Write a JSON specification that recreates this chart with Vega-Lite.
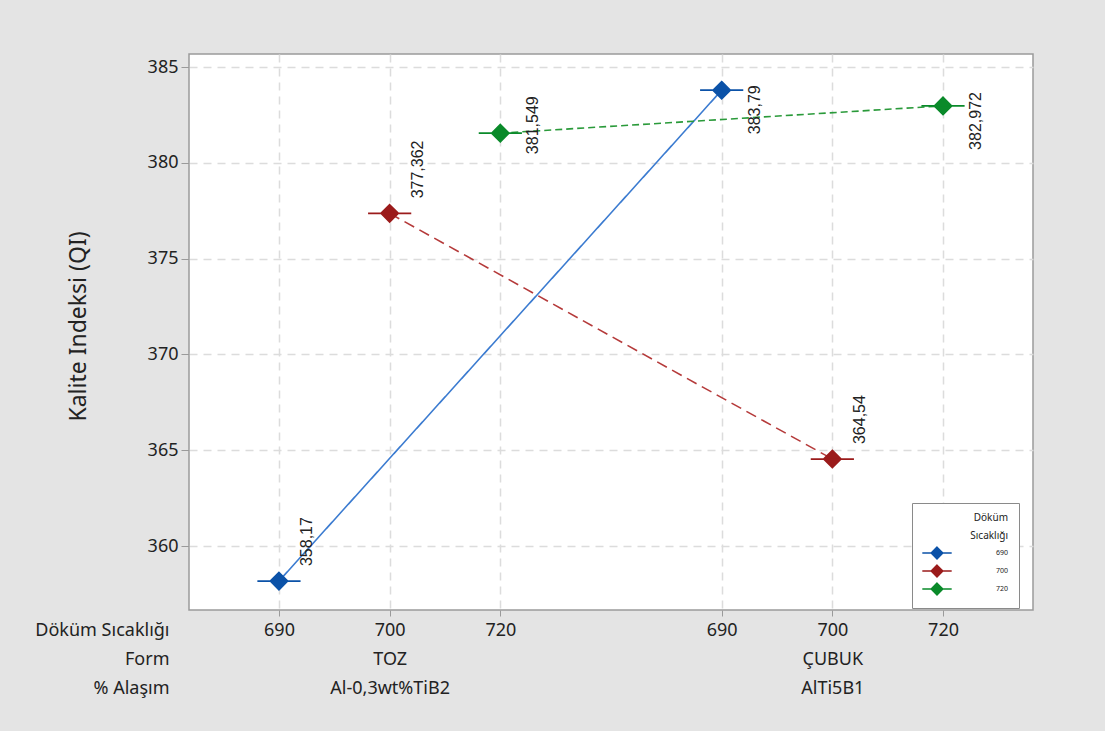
{
  "$schema": "https://vega.github.io/schema/vega-lite/v6.json",
  "autosize": {"type": "none"},
  "width": 844,
  "height": 556,
  "padding": {"left": 189, "top": 54, "right": 72, "bottom": 121},
  "background": "#e4e4e4",
  "config": {
    "view": {"fill": "white", "stroke": "#9a9a9a", "strokeWidth": 1.5},
    "font": "Noto Sans",
    "axis": {"domain": false}
  },
  "data": {
    "values": [
      {"Form": "TOZ", "Alasim": "Al-0,3wt%TiB2", "Sicaklik": "690", "QI": 358.17},
      {"Form": "TOZ", "Alasim": "Al-0,3wt%TiB2", "Sicaklik": "700", "QI": 377.362},
      {"Form": "TOZ", "Alasim": "Al-0,3wt%TiB2", "Sicaklik": "720", "QI": 381.549},
      {"Form": "ÇUBUK", "Alasim": "AlTi5B1", "Sicaklik": "690", "QI": 383.79},
      {"Form": "ÇUBUK", "Alasim": "AlTi5B1", "Sicaklik": "700", "QI": 364.54},
      {"Form": "ÇUBUK", "Alasim": "AlTi5B1", "Sicaklik": "720", "QI": 382.972}
    ]
  },
  "transform": [
    {"calculate": "datum.Form + '|' + datum.Sicaklik + '|' + datum.Alasim", "as": "Konum"},
    {"calculate": "replace(toString(datum.QI), '.', ',')", "as": "Etiket"},
    {"calculate": "'s' + datum.Sicaklik", "as": "Cizgi"}
  ],
  "encoding": {
    "x": {
      "field": "Konum",
      "type": "ordinal",
      "scale": {
        "type": "point",
        "domain": ["TOZ|690|Al-0,3wt%TiB2", "TOZ|700|Al-0,3wt%TiB2", "TOZ|720|Al-0,3wt%TiB2", "ara", "ÇUBUK|690|AlTi5B1", "ÇUBUK|700|AlTi5B1", "ÇUBUK|720|AlTi5B1"],
        "padding": 0.813
      },
      "axis": {
        "title": ["Döküm Sıcaklığı", "Form", "% Alaşım"],
        "values": ["TOZ|690|Al-0,3wt%TiB2", "TOZ|700|Al-0,3wt%TiB2", "TOZ|720|Al-0,3wt%TiB2", "ÇUBUK|690|AlTi5B1", "ÇUBUK|700|AlTi5B1", "ÇUBUK|720|AlTi5B1"],
        "labelExpr": "split(datum.value, '|')[1] == '700' ? [split(datum.value, '|')[1], split(datum.value, '|')[0], split(datum.value, '|')[2]] : split(datum.value, '|')[1]",
        "labelAngle": 0,
        "labelFontSize": 18,
        "labelLineHeight": 29,
        "labelColor": "#222222",
        "labelPadding": 5,
        "labelBaseline": "top",
        "tickColor": "#9a9a9a",
        "tickSize": 6,
        "grid": true,
        "gridColor": "#dcdcdc",
        "gridDash": [8, 6],
        "gridWidth": 1.5,
        "titleX": -20,
        "titleY": 11,
        "titleAlign": "right",
        "titleBaseline": "top",
        "titleFontSize": 18,
        "titleFontWeight": "normal",
        "titleLineHeight": 29,
        "titleColor": "#222222"
      }
    },
    "y": {
      "field": "QI",
      "type": "quantitative",
      "scale": {"domain": [356.66, 385.68], "nice": false, "zero": false},
      "axis": {
        "title": "Kalite Indeksi (QI)",
        "values": [360, 365, 370, 375, 380, 385],
        "format": "d",
        "labelFontSize": 18,
        "labelColor": "#222222",
        "labelPadding": 3,
        "tickColor": "#9a9a9a",
        "tickSize": 8,
        "grid": true,
        "gridColor": "#dcdcdc",
        "gridDash": [8, 6],
        "gridWidth": 1.5,
        "titleFontSize": 23,
        "titleFontWeight": "normal",
        "titleColor": "#222222",
        "titleX": -111,
        "titleY": 272,
        "titleAngle": 270,
        "titleAlign": "center",
        "titleBaseline": "middle"
      }
    }
  },
  "layer": [
    {
      "mark": {"type": "line", "strokeWidth": 1.6},
      "encoding": {
        "stroke": {
          "field": "Cizgi",
          "type": "nominal",
          "scale": {"domain": ["s690", "s700", "s720"], "range": ["#3b7bd0", "#b53a3a", "#2a9a3a"]},
          "legend": null
        },
        "strokeDash": {
          "field": "Cizgi",
          "type": "nominal",
          "scale": {"domain": ["s690", "s700", "s720"], "range": [[1, 0], [11, 6], [7, 4]]},
          "legend": null
        }
      }
    },
    {
      "mark": {"type": "point", "shape": "M-2.4,0L2.4,0M0,-0.95L0.95,0L0,0.95L-0.95,0Z", "filled": false, "size": 324, "opacity": 1, "strokeWidth": 1.8},
      "encoding": {
        "color": {
          "field": "Sicaklik",
          "type": "nominal",
          "scale": {"domain": ["690", "700", "720"], "range": ["#0b52a8", "#9b1b1b", "#0a8a2a"]},
          "legend": {
            "title": ["Döküm", "Sıcaklığı"],
            "orient": "none",
            "legendX": 723,
            "legendY": 449,
            "fillColor": "white",
            "strokeColor": "#8a8a8a",
            "padding": 10,
            "titleFontSize": 10,
            "titleFontWeight": "normal",
            "titleLineHeight": 18,
            "titleAnchor": "end",
            "titlePadding": 5,
            "titleColor": "#222222",
            "labelFontSize": 7,
            "labelColor": "#222222",
            "labelOffset": 52,
            "symbolOffset": 8,
            "rowPadding": 0,
            "symbolSize": 150,
            "symbolStrokeWidth": 1.5
          }
        },
        "fill": {
          "field": "Sicaklik",
          "type": "nominal",
          "scale": {"domain": ["690", "700", "720"], "range": ["#0b52a8", "#9b1b1b", "#0a8a2a"]},
          "legend": {
            "title": ["Döküm", "Sıcaklığı"],
            "orient": "none",
            "legendX": 723,
            "legendY": 449,
            "fillColor": "white",
            "strokeColor": "#8a8a8a",
            "padding": 10,
            "titleFontSize": 10,
            "titleFontWeight": "normal",
            "titleLineHeight": 18,
            "titleAnchor": "end",
            "titlePadding": 5,
            "titleColor": "#222222",
            "labelFontSize": 7,
            "labelColor": "#222222",
            "labelOffset": 52,
            "symbolOffset": 8,
            "rowPadding": 0,
            "symbolSize": 150,
            "symbolStrokeWidth": 1.5
          }
        }
      }
    },
    {
      "transform": [{"filter": "datum.QI < 380"}],
      "mark": {"type": "text", "angle": 270, "align": "left", "baseline": "top", "dx": 15, "dy": 20, "font": "Liberation Sans", "fontSize": 16, "color": "#222222"},
      "encoding": {"text": {"field": "Etiket", "type": "nominal"}}
    },
    {
      "transform": [{"filter": "datum.QI > 382.5"}],
      "mark": {"type": "text", "angle": 270, "align": "left", "baseline": "top", "dx": -44, "dy": 25, "font": "Liberation Sans", "fontSize": 16, "color": "#222222"},
      "encoding": {"text": {"field": "Etiket", "type": "nominal"}}
    },
    {
      "transform": [{"filter": "datum.QI >= 380 && datum.QI <= 382.5"}],
      "mark": {"type": "text", "angle": 270, "align": "left", "baseline": "top", "dx": -21, "dy": 25, "font": "Liberation Sans", "fontSize": 16, "color": "#222222"},
      "encoding": {"text": {"field": "Etiket", "type": "nominal"}}
    }
  ]
}
